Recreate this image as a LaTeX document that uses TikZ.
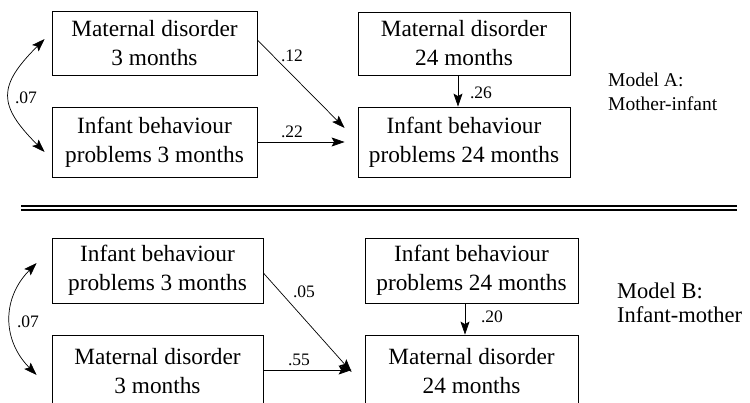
\documentclass[tikz,border=0pt]{standalone}
\usepackage{fontspec}
\setmainfont{Liberation Serif}
\usetikzlibrary{arrows.meta,calc}
\newcommand\bxf{\fontsize{23.3}{29}\selectfont}
\newcommand\lbf{\fontsize{17.5}{20}\selectfont}
\newcommand\mfa{\fontsize{19.5}{23}\selectfont}
\newcommand\mfb{\fontsize{22.5}{24}\selectfont}
\begin{document}
\begin{tikzpicture}[x=1pt,y=-1pt,
  box/.style={draw, line width=0.8pt, inner sep=0pt, align=center, font=\bxf},
  arr/.style={-{Stealth[length=13pt,width=9pt,inset=2.5pt]}, line width=0.7pt},
  dbl/.style={{Stealth[length=13pt,width=9pt,inset=2.5pt]}-{Stealth[length=13pt,width=9pt,inset=2.5pt]}, line width=0.7pt},
  lab/.style={font=\lbf, inner sep=0pt},
  ma/.style={font=\mfa, anchor=base west, inner sep=0pt},
  mb/.style={font=\mfb, anchor=base west, inner sep=0pt}]
\useasboundingbox (0,0) rectangle (750,402);
\clip (0,0) rectangle (750,402);
% Model A
\node[box, minimum width=205pt, minimum height=64pt] (A1) at (154.5,43) {Maternal disorder\\3 months};
\node[box, minimum width=205pt, minimum height=70pt] (A2) at (154.5,142) {Infant behaviour\\problems 3 months};
\node[box, minimum width=212pt, minimum height=63pt] (A3) at (464,43.5) {Maternal disorder\\24 months};
\node[box, minimum width=212pt, minimum height=70pt] (A4) at (464,142) {Infant behaviour\\problems 24 months};
\node[ma] (MA1) at (608,86) {Model A:};
\node[ma] (MA2) at (608,110) {Mother-infant};
\draw[arr] ($(A1.east)+(0,-3)$) -- ($(A4.west)+(-13,-14)$);
\draw[arr] (A2.east) -- ($(A4.west)+(-13,0)$);
\draw[arr] ($(A3.south)+(-6,0)$) -- ($(A4.north)+(-6,0)$);
\coordinate (at) at ($(A1.west)+(-7,-4)$);
\coordinate (ab) at ($(A2.west)+(-7,10)$);
\draw[dbl] (at) .. controls ($(at)+(-47,47)$) and ($(ab)+(-47,-47)$) .. (ab);
\node[lab] (l12) at (292,56) {.12};
\node[lab] (l22) at (292,132) {.22};
\node[lab] (l26) at (481,93) {.26};
\node[lab] (l07a) at (26,98) {.07};
% separator
\coordinate (s1l) at (21,206); \coordinate (s1r) at (737,206);
\coordinate (s2l) at (21,210); \coordinate (s2r) at (737,210);
\draw[line width=1.8pt] (s1l) -- (s1r);
\draw[line width=1.3pt] (s2l) -- (s2r);
% Model B
\node[box, minimum width=211pt, minimum height=65pt] (B1) at (157.5,270.5) {Infant behaviour\\problems 3 months};
\node[box, minimum width=211pt, minimum height=72pt] (B2) at (157.5,371) {Maternal disorder\\3 months};
\node[box, minimum width=213pt, minimum height=65pt] (B3) at (471.5,270.5) {Infant behaviour\\problems 24 months};
\node[box, minimum width=213pt, minimum height=72pt] (B4) at (471.5,371) {Maternal disorder\\24 months};
\node[mb] (MB1) at (617,298) {Model B:};
\node[mb] (MB2) at (617,322) {Infant-mother};
\draw[arr] ($(B1.east)+(0,2.5)$) -- ($(B4.west)+(-13,1)$);
\draw[arr] ($(B2.east)+(0,-1)$) -- ($(B4.west)+(-13,-1)$);
\draw[arr] ($(B3.south)+(-6.5,0)$) -- ($(B4.north)+(-6.5,0)$);
\coordinate (bt) at ($(B1.west)+(-15,-7.5)$);
\coordinate (bb) at ($(B2.west)+(-15,4)$);
\draw[dbl] (bt) .. controls ($(bt)+(-34.7,35)$) and ($(bb)+(-34.7,-35)$) .. (bb);
\node[lab] (l05) at (304,292) {.05};
\node[lab] (l55) at (299,360) {.55};
\node[lab] (l20) at (492,317) {.20};
\node[lab] (l07b) at (28,322) {.07};
\end{tikzpicture}
\end{document}
